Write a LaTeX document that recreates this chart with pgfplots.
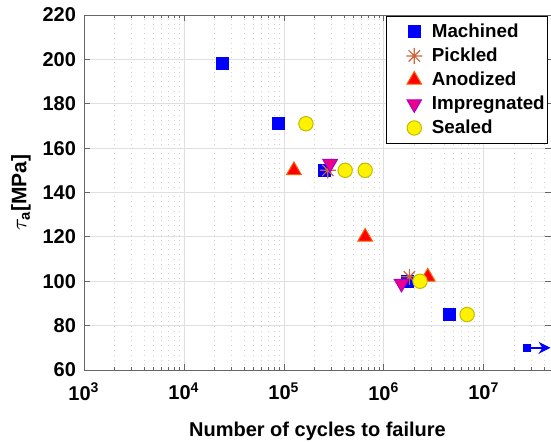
\documentclass[border=0pt]{standalone}
\usepackage{fontspec}
\setmainfont{Liberation Sans}
\usepackage{amsmath}
\usepackage{pgfplots}
\pgfplotsset{compat=1.18}
\usetikzlibrary{arrows.meta}
\definecolor{pickled}{RGB}{205,100,60}
\definecolor{sealedge}{RGB}{190,190,0}
\definecolor{anoedge}{RGB}{255,90,0}
\definecolor{impedge}{RGB}{170,0,200}
\pgfdeclareplotmark{ast8}{%
  \pgfpathmoveto{\pgfqpoint{0pt}{\pgfplotmarksize}}\pgfpathlineto{\pgfqpoint{0pt}{-\pgfplotmarksize}}%
  \pgfpathmoveto{\pgfqpoint{\pgfplotmarksize}{0pt}}\pgfpathlineto{\pgfqpoint{-\pgfplotmarksize}{0pt}}%
  \pgfpathmoveto{\pgfpointpolar{45}{\pgfplotmarksize}}\pgfpathlineto{\pgfpointpolar{225}{\pgfplotmarksize}}%
  \pgfpathmoveto{\pgfpointpolar{135}{\pgfplotmarksize}}\pgfpathlineto{\pgfpointpolar{315}{\pgfplotmarksize}}%
  \pgfusepathqstroke}
\pgfplotsset{mylegimg/.style={legend image code/.code={\path (0pt,0pt) (20.5pt,0pt);\draw[mark repeat=2,mark phase=2,##1] plot coordinates {(0pt,0pt)(12.5pt,0pt)(25pt,0pt)};}}}
\begin{document}
\begin{tikzpicture}
\begin{axis}[
  name=ax,
  scale only axis,
  width=233.5pt, height=177.5pt,
  xmode=log, log basis x=10,
  xmin=1e3, xmax=4.7e7,
  ymin=60, ymax=220,
  ytick={60,80,...,220},
  xmajorgrids=true, xminorgrids=true, ymajorgrids=true,
  major grid style={gray!25, line width=0.4pt},
  minor grid style={gray!35, dotted, line width=0.4pt},
  axis line style={black!60, line width=0.5pt},
  tick align=inside,
  major tick length=3pt, minor tick length=1.6pt,
  tick style={black!60, line width=0.4pt},
  /pgf/number format/assume math mode=true,
  ticklabel style={font=\fontsize{10}{12}\selectfont\bfseries},
  yticklabel style={xshift=-0.5pt},
  xticklabel style={yshift=-3pt},
  xticklabel={10\textsuperscript{\pgfmathparse{int(round(\tick))}\pgfmathresult}},
  xlabel={Number of cycles to failure},
  xlabel style={font=\fontsize{10}{12}\selectfont\bfseries, yshift=-4pt},
  ylabel={$\tau_{\text{\bfseries a}}$[MPa]},
  ylabel style={font=\fontsize{10.5}{12}\selectfont\bfseries, yshift=-1pt},
  legend style={at={(0.994,0.997)}, anchor=north east, draw=black, line width=0.5pt,
    font=\fontsize{9.4}{11}\selectfont\bfseries, fill=white, row sep=-0.3pt,
    inner xsep=1pt, inner ysep=1.5pt, nodes={inner xsep=0.5pt}},
  legend cell align=left,
]
\addplot[only marks, mylegimg, mark=square*, mark size=3pt, draw=blue, fill=blue]
  coordinates {(2.45e4,198) (8.9e4,171) (2.57e5,150) (1.7e6,100) (4.5e6,85)};
\addlegendentry{Machined}
\addplot[only marks, mylegimg, mark=ast8, mark size=4pt, pickled, line width=0.6pt]
  coordinates {(2.75e5,150) (1.8e6,102)};
\addlegendentry{Pickled}
\addplot[only marks, mylegimg, mark=triangle*, mark size=4.2pt, draw=anoedge, fill=red, line width=0.5pt]
  coordinates {(1.26e5,150) (6.5e5,120) (2.75e6,102)};
\addlegendentry{Anodized}
\addplot[only marks, mylegimg, mark=triangle*, mark size=4.2pt, mark options={rotate=180}, draw=impedge, fill=magenta, line width=0.5pt]
  coordinates {(2.9e5,153) (1.5e6,99)};
\addlegendentry{Impregnated}
\addplot[only marks, mylegimg, mark=*, mark size=3.6pt, draw=sealedge, fill=yellow, line width=0.5pt]
  coordinates {(1.66e5,171) (4.1e5,150) (6.5e5,150) (2.3e6,100) (6.8e6,85)};
\addlegendentry{Sealed}
\addplot[blue, line width=0.8pt, -{Stealth[length=6pt,width=6pt]}, forget plot]
  coordinates {(2.7e7,70) (4.65e7,70)};
\addplot[only marks, mark=square*, mark size=1.8pt, draw=blue, fill=blue, forget plot]
  coordinates {(2.7e7,70)};
\end{axis}
\pgfresetboundingbox
\path ([xshift=-42pt,yshift=-35.5pt]ax.south west) rectangle ([yshift=7.5pt]ax.north east);
\end{tikzpicture}
\end{document}
